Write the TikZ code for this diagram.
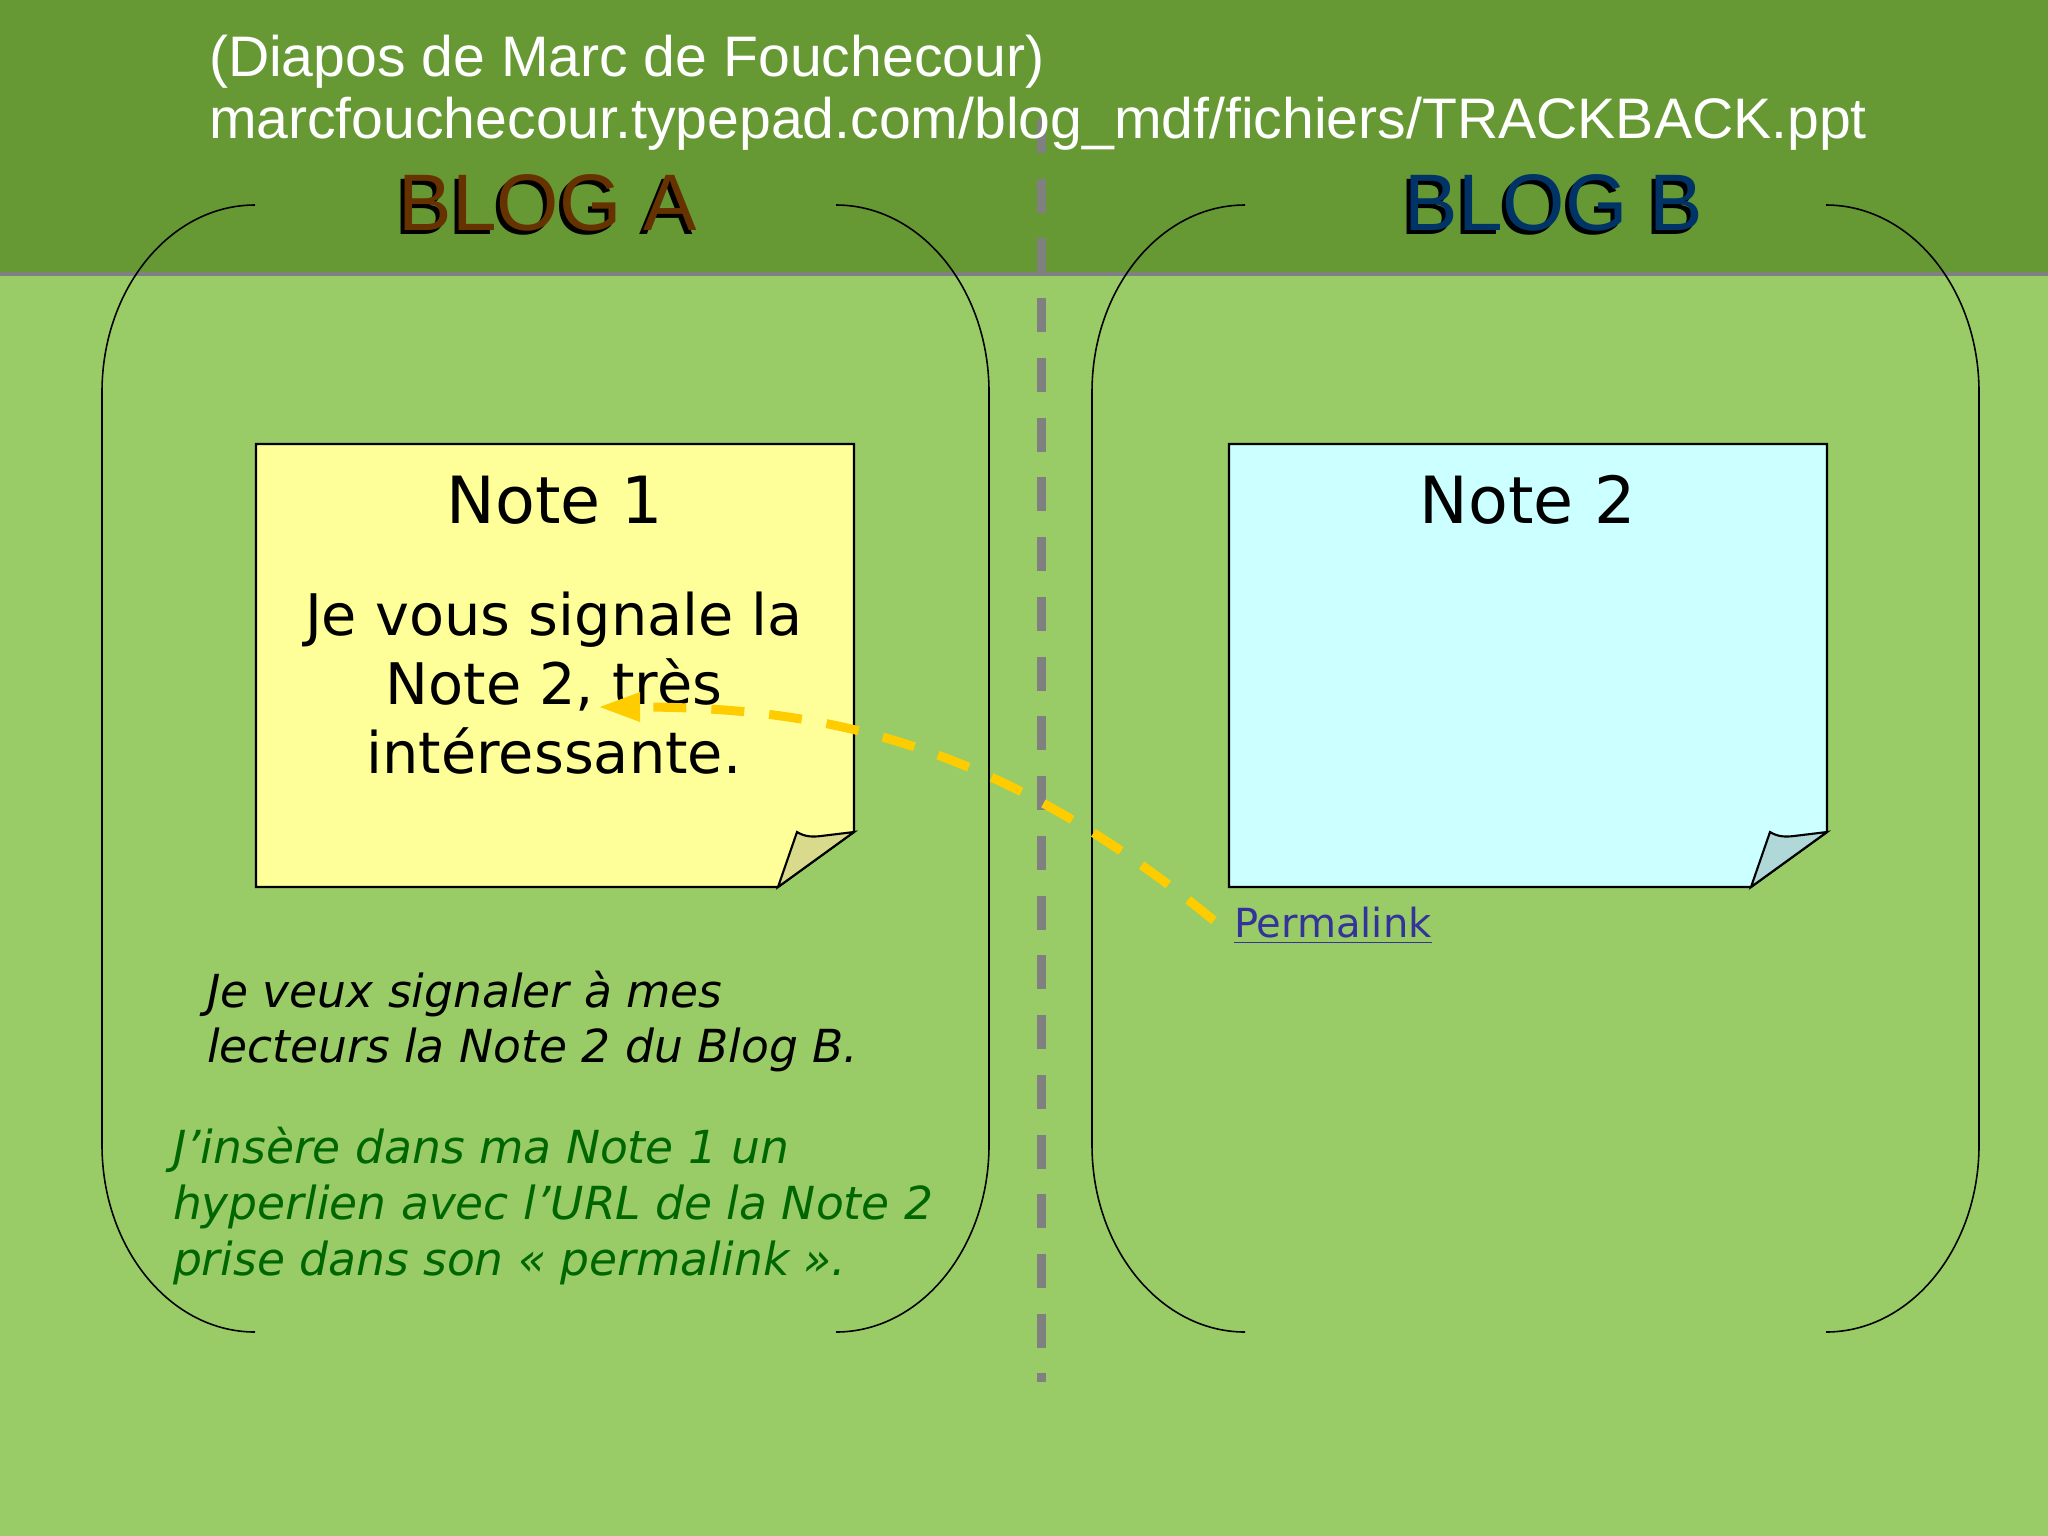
\documentclass[tikz,border=0pt]{standalone}
\usepackage{fontspec}
\setmainfont{DejaVu Sans}
\newfontfamily\arialfont{Liberation Sans}
\usetikzlibrary{arrows.meta}

\definecolor{headgreen}{RGB}{102,153,51}
\definecolor{slidegreen}{RGB}{153,204,102}
\definecolor{sepgray}{RGB}{128,128,128}
\definecolor{blogbrown}{RGB}{102,51,0}
\definecolor{blogblue}{RGB}{0,51,102}
\definecolor{noteyellow}{RGB}{255,255,153}
\definecolor{foldyellow}{RGB}{218,218,140}
\definecolor{notecyan}{RGB}{204,255,255}
\definecolor{foldcyan}{RGB}{176,216,216}
\definecolor{linkblue}{RGB}{51,51,153}
\definecolor{textgreen}{RGB}{0,102,0}
\definecolor{arrowyellow}{RGB}{255,204,0}

\begin{document}
\begin{tikzpicture}[x=0.01cm, y=-0.01cm,
    txt/.style={inner sep=0pt, outer sep=0pt},
    blogtitle/.style={txt, anchor=base, font=\arialfont\fontsize{22.8}{26}\selectfont},
    notetitle/.style={txt, anchor=base, font=\fontsize{18.5}{22}\selectfont},
    notebox/.style={draw=black, line width=0.6pt},
    bracket/.style={draw=black, line width=0.45pt},
    remark/.style={txt, anchor=base west, align=left, font=\itshape\fontsize{12.95}{15.6}\selectfont}]
    % slide background
    \useasboundingbox (0,0) rectangle (2048,1536);
    \fill[slidegreen] (0,0) rectangle (2048,1536);
    \fill[headgreen] (0,0) rectangle (2048,272);
    \fill[sepgray] (0,272) rectangle (2048,276);

    % blog A | blog B
    \draw[sepgray, line width=2.56pt, dash pattern=on 0.34cm off 0.257cm] (1041,119) -- (1041,1382);

    % multi-line nodes: base = last line
    \node[txt, anchor=base west, align=left, text=white, font=\arialfont\fontsize{16.25}{17.6}\selectfont] (source) at (209,138)
        {(Diapos de Marc de Fouchecour)\\marcfouchecour.typepad.com/blog\_mdf/fichiers/TRACKBACK.ppt};

    \node[blogtitle, text=black] at (544,234) {BLOG A};
    \node[blogtitle, text=blogbrown] (blogA) at (548,230) {BLOG A};
    \node[blogtitle, text=black] at (1550,234) {BLOG B};
    \node[blogtitle, text=blogblue] (blogB) at (1554,230) {BLOG B};

    % round brackets around each blog
    \foreach \dx in {0,990} {
        \draw[bracket] (255+\dx,205) .. controls (170.5+\dx,205) and (102+\dx,288.7) .. (102+\dx,392)
            -- (102+\dx,1145) .. controls (102+\dx,1248.3) and (170.5+\dx,1332) .. (255+\dx,1332);
        \draw[bracket] (836+\dx,205) .. controls (920.5+\dx,205) and (989+\dx,288.7) .. (989+\dx,392)
            -- (989+\dx,1145) .. controls (989+\dx,1248.3) and (920.5+\dx,1332) .. (836+\dx,1332);
    }

    % the two notes
    \filldraw[notebox, fill=noteyellow] (256,444) -- (854,444) -- (854,832) -- (778,887) -- (256,887) -- cycle;
    \filldraw[notebox, fill=foldyellow] (778,887) -- (797,832) .. controls (805,837) and (813,837) .. (821,836) -- (854,832) -- cycle;
    \filldraw[notebox, fill=notecyan] (1229,444) -- (1827,444) -- (1827,832) -- (1751,887) -- (1229,887) -- cycle;
    \filldraw[notebox, fill=foldcyan] (1751,887) -- (1770,832) .. controls (1778,837) and (1786,837) .. (1794,836) -- (1827,832) -- cycle;

    \node[notetitle] (note1) at (555,523) {Note 1};
    \node[notetitle] (note2) at (1528,523) {Note 2};
    \node[txt, anchor=base, align=center, font=\fontsize{16.3}{19.5}\selectfont] (mention) at (554,773)
        {Je vous signale la\\Note 2, très\\intéressante.};
    \node[txt, anchor=base west, text=linkblue, font=\fontsize{11.4}{14}\selectfont] (plink) at (1234,937) {\underline{Permalink}};

    \node[remark] (intent) at (207,1062) {Je veux signaler à mes\\lecteurs la Note 2 du Blog B.};
    \node[remark, text=textgreen, font=\itshape\fontsize{12.95}{15.8}\selectfont] (action) at (173,1275)
        {J’insère dans ma Note 1 un\\hyperlien avec l’URL de la Note 2\\prise dans son « permalink ».};

    % link from the permalink back into note 1
    \coordinate (tip) at (598,707);
    \draw[arrowyellow, line width=2.56pt, dash pattern=on 0.33cm off 0.25cm, shorten <=0.26cm,
        -{Triangle[length=0.42cm,width=0.27cm]}] (plink.base west) .. controls (1000,745) and (830,707) .. (tip);
\end{tikzpicture}
\end{document}
